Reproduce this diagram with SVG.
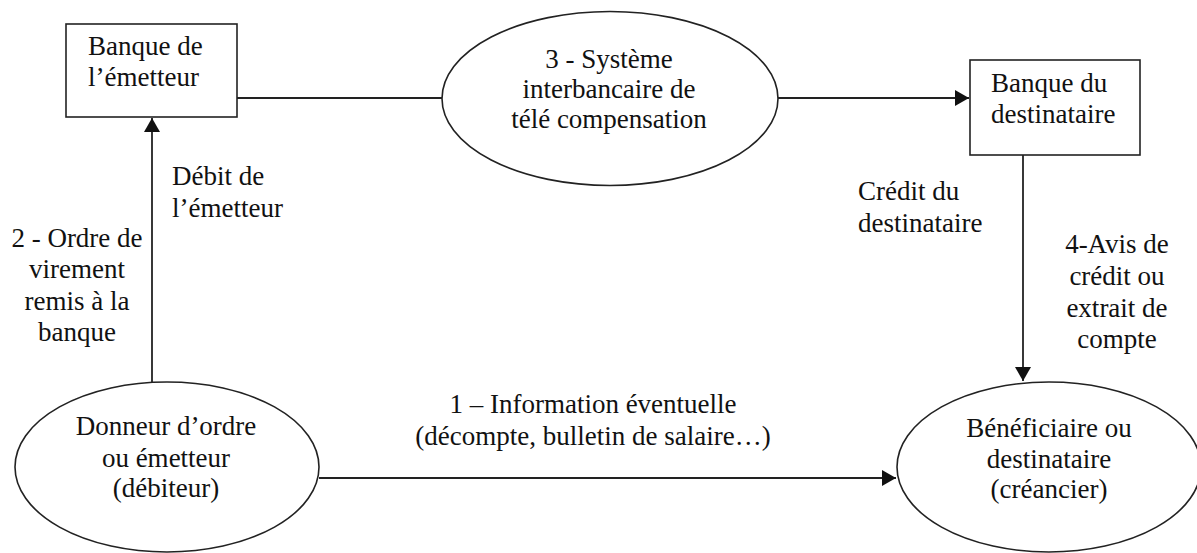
<svg xmlns="http://www.w3.org/2000/svg" width="1197" height="553" viewBox="0 0 1197 553">
<style>
  .shape { fill: #fff; stroke: #222; stroke-width: 1.6; }
  .conn { fill: none; stroke: #222; stroke-width: 1.8; }
  .t { font-family: 'Liberation Serif', 'Times New Roman', Tinos, 'DejaVu Serif', serif; font-size: 27px; fill: #111; }
  .mid { text-anchor: middle; }
</style>
<defs>
  <marker id="arrow" markerUnits="userSpaceOnUse" markerWidth="16" markerHeight="16" refX="14" refY="8" orient="auto">
    <path d="M0,0 L14,8 L0,16 z" fill="#111"/>
  </marker>
</defs>
<rect width="1197" height="553" fill="#fff"/>

<g id="connectors">
  <line class="conn" x1="237" y1="98" x2="442" y2="98"/>
  <line class="conn" x1="778" y1="98" x2="969" y2="98" marker-end="url(#arrow)"/>
  <line class="conn" x1="152" y1="382" x2="152" y2="118" marker-end="url(#arrow)"/>
  <line class="conn" x1="1023" y1="155" x2="1023" y2="381" marker-end="url(#arrow)"/>
  <line class="conn" x1="319" y1="478" x2="896" y2="478" marker-end="url(#arrow)"/>
</g>

<g id="banque-emetteur">
  <rect class="shape" x="66" y="24" width="171" height="93"/>
  <text class="t" x="88" y="55">Banque de</text>
  <text class="t" x="88" y="86">l’émetteur</text>
</g>

<g id="systeme-interbancaire">
  <ellipse class="shape" cx="610" cy="98.5" rx="168" ry="87"/>
  <text class="t mid" x="609" y="68">3 - Système</text>
  <text class="t mid" x="609" y="98">interbancaire de</text>
  <text class="t mid" x="609" y="128">télé compensation</text>
</g>

<g id="banque-destinataire">
  <rect class="shape" x="970" y="60" width="170" height="95"/>
  <text class="t" x="991" y="92">Banque du</text>
  <text class="t" x="991" y="123">destinataire</text>
</g>

<g id="donneur-ordre">
  <ellipse class="shape" cx="167" cy="467" rx="152" ry="85"/>
  <text class="t mid" x="166" y="435">Donneur d’ordre</text>
  <text class="t mid" x="166" y="467">ou émetteur</text>
  <text class="t mid" x="166" y="497">(débiteur)</text>
</g>

<g id="beneficiaire">
  <ellipse class="shape" cx="1049" cy="467" rx="152" ry="85"/>
  <text class="t mid" x="1049" y="437">Bénéficiaire ou</text>
  <text class="t mid" x="1049" y="468">destinataire</text>
  <text class="t mid" x="1049" y="498">(créancier)</text>
</g>

<g id="labels">
  <text class="t" x="172" y="185">Débit de</text>
  <text class="t" x="172" y="217">l’émetteur</text>
  <text class="t mid" x="77" y="247">2 - Ordre de</text>
  <text class="t mid" x="77" y="278">virement</text>
  <text class="t mid" x="77" y="310">remis à la</text>
  <text class="t mid" x="77" y="341">banque</text>
  <text class="t" x="858" y="200">Crédit du</text>
  <text class="t" x="858" y="232">destinataire</text>
  <text class="t mid" x="1117" y="253">4-Avis de</text>
  <text class="t mid" x="1117" y="285">crédit ou</text>
  <text class="t mid" x="1117" y="317">extrait de</text>
  <text class="t mid" x="1117" y="348">compte</text>
  <text class="t mid" x="593" y="413">1 – Information éventuelle</text>
  <text class="t mid" x="593" y="445">(décompte, bulletin de salaire…)</text>
</g>
</svg>
